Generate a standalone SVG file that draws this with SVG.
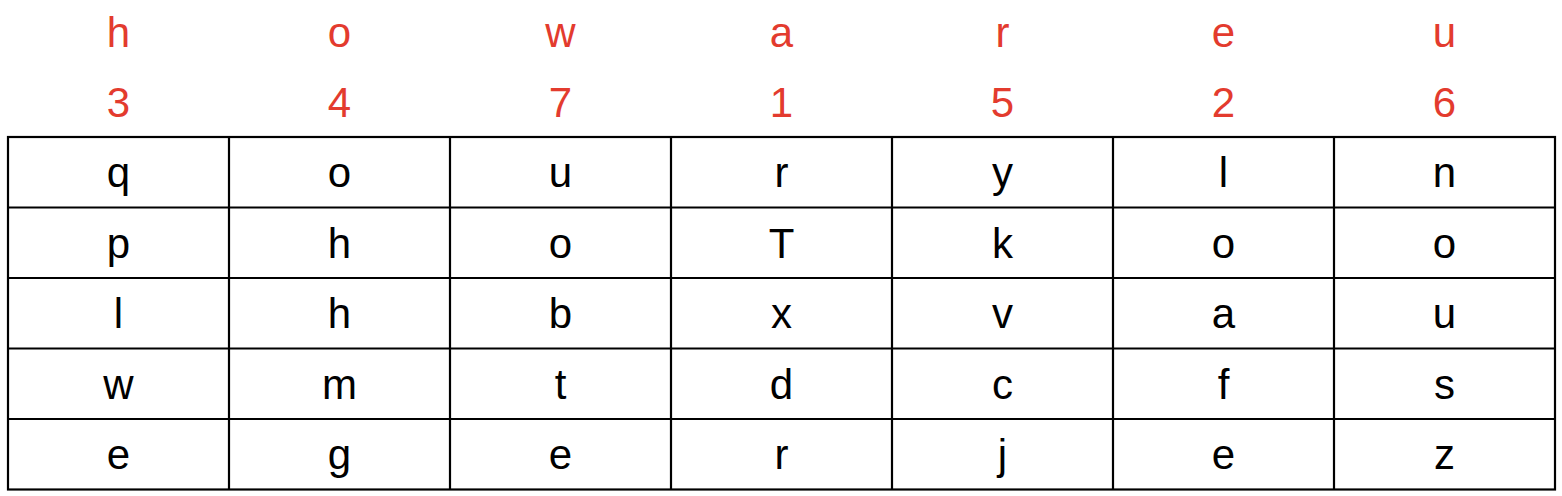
<svg xmlns="http://www.w3.org/2000/svg" width="1562" height="496" viewBox="0 0 1562 496">
<style>
.hd{font-family:"Liberation Sans",Arial,sans-serif;font-size:42px;fill:#e33b2e;text-anchor:middle}
.c{font-family:"Liberation Sans",Arial,sans-serif;font-size:42px;fill:#000;text-anchor:middle}
.g{stroke:#000;stroke-width:2.2;fill:none}
</style>
<rect width="1562" height="496" fill="#fff"/>
<g id="header-keys">
<text class="hd" x="118.5" y="47">h</text>
<text class="hd" x="339.5" y="47">o</text>
<text class="hd" x="560.5" y="47">w</text>
<text class="hd" x="781.5" y="47">a</text>
<text class="hd" x="1002.5" y="47">r</text>
<text class="hd" x="1223.5" y="47">e</text>
<text class="hd" x="1444.5" y="47">u</text>
</g>
<g id="header-order">
<text class="hd" x="118.5" y="117">3</text>
<text class="hd" x="339.5" y="117">4</text>
<text class="hd" x="560.5" y="117">7</text>
<text class="hd" x="781.5" y="117">1</text>
<text class="hd" x="1002.5" y="117">5</text>
<text class="hd" x="1223.5" y="117">2</text>
<text class="hd" x="1444.5" y="117">6</text>
</g>
<g id="grid" class="g">
<rect x="8" y="137" width="1547" height="352.5"/>
<path d="M229 137V489.5M450 137V489.5M671 137V489.5M892 137V489.5M1113 137V489.5M1334 137V489.5M8 207.5H1555M8 278H1555M8 348.5H1555M8 419H1555"/>
</g>
<g id="row1">
<text class="c" x="118.5" y="187">q</text>
<text class="c" x="339.5" y="187">o</text>
<text class="c" x="560.5" y="187">u</text>
<text class="c" x="781.5" y="187">r</text>
<text class="c" x="1002.5" y="187">y</text>
<text class="c" x="1223.5" y="187">l</text>
<text class="c" x="1444.5" y="187">n</text>
</g>
<g id="row2">
<text class="c" x="118.5" y="257.5">p</text>
<text class="c" x="339.5" y="257.5">h</text>
<text class="c" x="560.5" y="257.5">o</text>
<text class="c" x="781.5" y="257.5">T</text>
<text class="c" x="1002.5" y="257.5">k</text>
<text class="c" x="1223.5" y="257.5">o</text>
<text class="c" x="1444.5" y="257.5">o</text>
</g>
<g id="row3">
<text class="c" x="118.5" y="328">l</text>
<text class="c" x="339.5" y="328">h</text>
<text class="c" x="560.5" y="328">b</text>
<text class="c" x="781.5" y="328">x</text>
<text class="c" x="1002.5" y="328">v</text>
<text class="c" x="1223.5" y="328">a</text>
<text class="c" x="1444.5" y="328">u</text>
</g>
<g id="row4">
<text class="c" x="118.5" y="398.5">w</text>
<text class="c" x="339.5" y="398.5">m</text>
<text class="c" x="560.5" y="398.5">t</text>
<text class="c" x="781.5" y="398.5">d</text>
<text class="c" x="1002.5" y="398.5">c</text>
<text class="c" x="1223.5" y="398.5">f</text>
<text class="c" x="1444.5" y="398.5">s</text>
</g>
<g id="row5">
<text class="c" x="118.5" y="469">e</text>
<text class="c" x="339.5" y="469">g</text>
<text class="c" x="560.5" y="469">e</text>
<text class="c" x="781.5" y="469">r</text>
<text class="c" x="1002.5" y="469">j</text>
<text class="c" x="1223.5" y="469">e</text>
<text class="c" x="1444.5" y="469">z</text>
</g>
</svg>
